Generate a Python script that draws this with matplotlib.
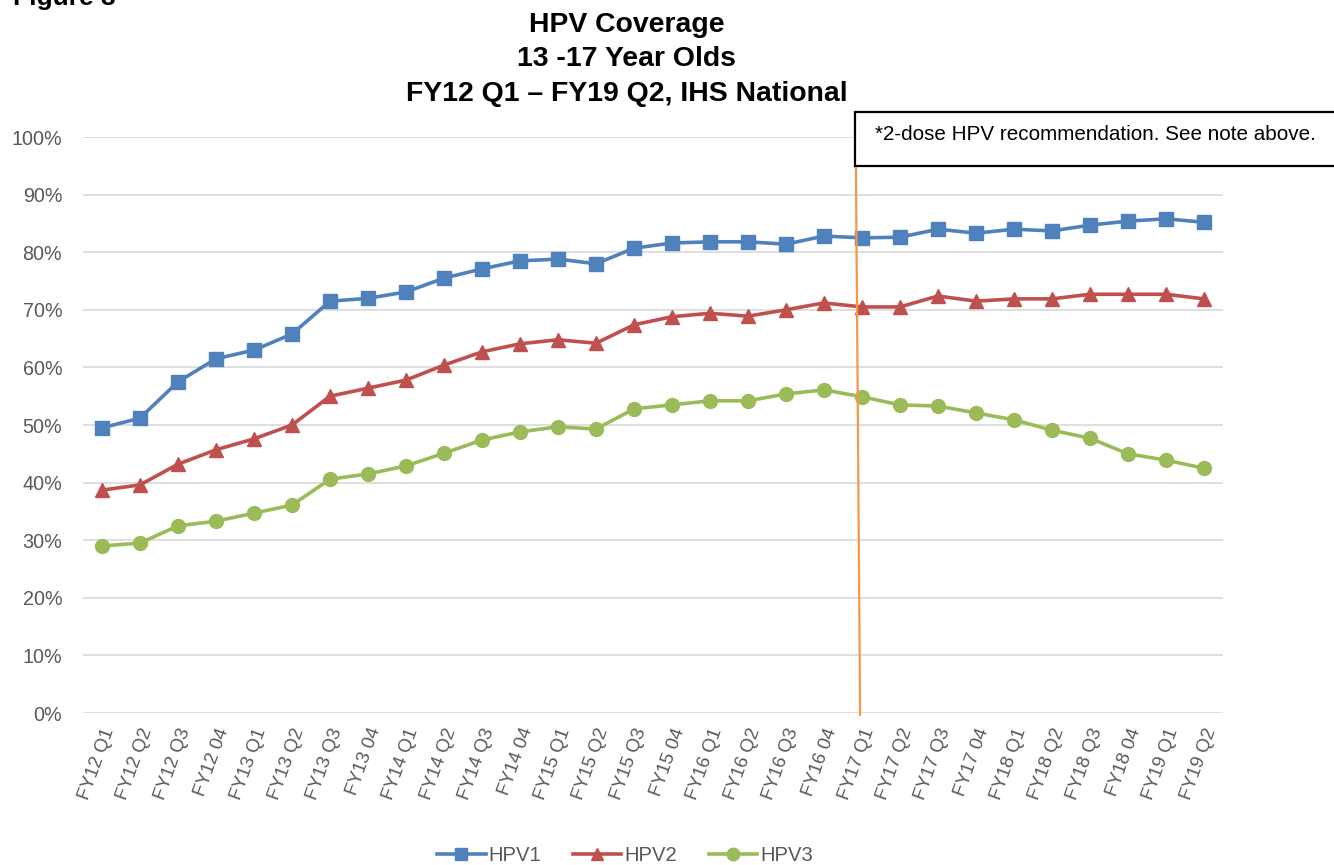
import matplotlib
matplotlib.use("Agg")
import matplotlib.pyplot as plt
from matplotlib.ticker import FuncFormatter, MultipleLocator
from matplotlib.patches import Rectangle

plt.rcParams['font.family'] = ['Liberation Sans', 'DejaVu Sans']

categories = ["FY12 Q1", "FY12 Q2", "FY12 Q3", "FY12 04",
              "FY13 Q1", "FY13 Q2", "FY13 Q3", "FY13 04",
              "FY14 Q1", "FY14 Q2", "FY14 Q3", "FY14 04",
              "FY15 Q1", "FY15 Q2", "FY15 Q3", "FY15 04",
              "FY16 Q1", "FY16 Q2", "FY16 Q3", "FY16 04",
              "FY17 Q1", "FY17 Q2", "FY17 Q3", "FY17 04",
              "FY18 Q1", "FY18 Q2", "FY18 Q3", "FY18 04",
              "FY19 Q1", "FY19 Q2"]

hpv1 = [49.5, 51.2, 57.5, 61.5, 63.0, 65.8, 71.5, 72.0, 73.1, 75.5,
        77.1, 78.5, 78.8, 78.0, 80.7, 81.6, 81.8, 81.8, 81.4, 82.8,
        82.5, 82.6, 84.0, 83.3, 84.0, 83.7, 84.7, 85.4, 85.8, 85.2]
hpv2 = [38.7, 39.6, 43.2, 45.7, 47.6, 50.0, 55.0, 56.4, 57.8, 60.4,
        62.7, 64.1, 64.8, 64.2, 67.4, 68.8, 69.4, 68.9, 70.0, 71.2,
        70.5, 70.5, 72.4, 71.5, 71.9, 71.9, 72.7, 72.7, 72.7, 71.9]
hpv3 = [29.0, 29.5, 32.5, 33.3, 34.7, 36.1, 40.6, 41.5, 42.9, 45.1,
        47.4, 48.8, 49.7, 49.3, 52.8, 53.5, 54.2, 54.2, 55.4, 56.1,
        54.9, 53.5, 53.3, 52.1, 50.9, 49.1, 47.7, 45.0, 43.9, 42.5]

series_names = ["HPV1", "HPV2", "HPV3"]
marker_line_index = categories.index("FY17 Q1")
note_text = "*2-dose HPV recommendation. See note above."
title_lines = ["HPV Coverage", "13 -17 Year Olds", "FY12 Q1 \u2013 FY19 Q2, IHS National"]

fig = plt.figure(figsize=(13.34, 8.65), dpi=100)
ax = fig.add_axes([0.0622, 0.1757, 0.8546, 0.6659])

x = list(range(len(categories)))
ax.plot(x, hpv1, color='#4F81BD', lw=2.6, marker='s', ms=10, label=series_names[0], zorder=3)
ax.plot(x, hpv2, color='#C0504D', lw=2.6, marker='^', ms=10, label=series_names[1], zorder=3)
ax.plot(x, hpv3, color='#9BBB59', lw=2.6, marker='o', ms=10, label=series_names[2], zorder=3)

ax.set_xlim(-0.5, len(categories) - 0.5)
ax.set_ylim(0, 100)
ax.yaxis.set_major_locator(MultipleLocator(10))
ax.yaxis.set_major_formatter(FuncFormatter(lambda v, p: f"{int(round(v))}%"))
ax.grid(axis='y', color='#D9D9D9', lw=1.2)
ax.set_axisbelow(True)
for s in ax.spines.values():
    s.set_visible(False)
ax.tick_params(axis='both', length=0, colors='#595959')
ax.tick_params(axis='y', pad=15, labelsize=14.2)
ax.set_xticks(x)
ax.set_xticklabels(categories, rotation=70, ha='right', va='top', rotation_mode='anchor')
ax.tick_params(axis='x', pad=9, labelsize=13.5)

# vertical orange line at FY17 Q1
ax.plot([marker_line_index - 0.16, marker_line_index - 0.05], [95.3, -0.3],
        color='#F79646', lw=1.6, zorder=4, clip_on=False)

# note box
box_x0, box_y0 = 855 / 1334, 1 - 166 / 865
fig.patches.append(Rectangle((box_x0, box_y0), 1.01 - box_x0, (166 - 112) / 865,
                             transform=fig.transFigure, facecolor='white',
                             edgecolor='#000000', lw=1.6, zorder=5))
fig.text(875 / 1334, 1 - 135 / 865, note_text, fontsize=14.9, color='#000000',
         ha='left', va='center', zorder=6)

# titles
title_y = [0.971, 0.932, 0.891]
for t, yy in zip(title_lines, title_y):
    fig.text(0.4695, yy, t, ha='center', va='center', fontsize=20.4, fontweight='bold')
fig.text(13 / 1334, 1 - 5 / 865, "Figure 3", ha='left', va='baseline', fontsize=19, fontweight='bold')

leg = fig.legend(loc='center', bbox_to_anchor=(0.4685, 0.0105), ncol=3, frameon=False,
                 fontsize=14.6, handlelength=2.4, columnspacing=1.55, handletextpad=0.15,
                 labelcolor='#595959', markerscale=0.9)

fig.savefig("out.png", dpi=100)
